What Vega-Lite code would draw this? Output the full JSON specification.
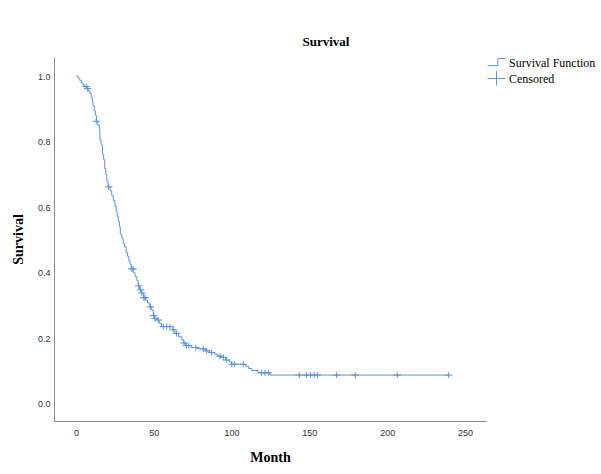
{
  "$schema": "https://vega.github.io/schema/vega-lite/v6.json",
  "width": 432,
  "height": 364,
  "autosize": {"type": "none"},
  "padding": {"left": 54, "top": 57, "right": 115, "bottom": 53},
  "background": "white",
  "config": {"view": {"stroke": null}},
  "title": {"text": "Survival", "font": "Liberation Serif", "fontSize": 13, "fontWeight": "bold", "color": "#000", "anchor": "middle", "dx": 56, "offset": 4},
  "datasets": {
    "km": [
      {"month": 0, "survival": 1.0},
      {"month": 1.5, "survival": 0.993},
      {"month": 2.5, "survival": 0.986},
      {"month": 3.5, "survival": 0.979},
      {"month": 4.5, "survival": 0.972},
      {"month": 5.5, "survival": 0.968},
      {"month": 7, "survival": 0.962},
      {"month": 8, "survival": 0.955},
      {"month": 9, "survival": 0.948},
      {"month": 9.8, "survival": 0.935},
      {"month": 10.5, "survival": 0.922},
      {"month": 11, "survival": 0.908},
      {"month": 11.8, "survival": 0.894},
      {"month": 12.5, "survival": 0.88},
      {"month": 13.2, "survival": 0.862},
      {"month": 14, "survival": 0.85},
      {"month": 15, "survival": 0.838},
      {"month": 15.4, "survival": 0.805},
      {"month": 16.2, "survival": 0.79},
      {"month": 17, "survival": 0.762},
      {"month": 17.8, "survival": 0.745},
      {"month": 18.5, "survival": 0.718},
      {"month": 19.2, "survival": 0.7},
      {"month": 19.8, "survival": 0.68},
      {"month": 20.6, "survival": 0.662},
      {"month": 22, "survival": 0.65},
      {"month": 23, "survival": 0.636},
      {"month": 24, "survival": 0.62},
      {"month": 25, "survival": 0.604},
      {"month": 25.8, "survival": 0.588},
      {"month": 26.5, "survival": 0.572},
      {"month": 27.2, "survival": 0.556},
      {"month": 28, "survival": 0.54},
      {"month": 28.5, "survival": 0.518},
      {"month": 29.5, "survival": 0.505},
      {"month": 30.4, "survival": 0.49},
      {"month": 31.3, "survival": 0.478},
      {"month": 32.3, "survival": 0.462},
      {"month": 33.2, "survival": 0.45},
      {"month": 34, "survival": 0.436},
      {"month": 34.8, "survival": 0.426},
      {"month": 35.5, "survival": 0.412},
      {"month": 37, "survival": 0.4},
      {"month": 38, "survival": 0.388},
      {"month": 39.2, "survival": 0.376},
      {"month": 40, "survival": 0.36},
      {"month": 40.8, "survival": 0.348},
      {"month": 42, "survival": 0.338},
      {"month": 43.3, "survival": 0.324},
      {"month": 44.5, "survival": 0.317},
      {"month": 46, "survival": 0.308},
      {"month": 47.5, "survival": 0.296},
      {"month": 48.7, "survival": 0.286},
      {"month": 49.7, "survival": 0.27},
      {"month": 50.5, "survival": 0.261},
      {"month": 52, "survival": 0.256},
      {"month": 53.5, "survival": 0.246},
      {"month": 55, "survival": 0.236},
      {"month": 62.3, "survival": 0.226},
      {"month": 63.6, "survival": 0.215},
      {"month": 66, "survival": 0.205},
      {"month": 68, "survival": 0.196},
      {"month": 69, "survival": 0.186},
      {"month": 70.5, "survival": 0.178},
      {"month": 74, "survival": 0.172},
      {"month": 78, "survival": 0.168},
      {"month": 83, "survival": 0.162},
      {"month": 86, "survival": 0.157},
      {"month": 89, "survival": 0.152},
      {"month": 91, "survival": 0.146},
      {"month": 93.5, "survival": 0.142},
      {"month": 96, "survival": 0.134},
      {"month": 98.5, "survival": 0.128},
      {"month": 100, "survival": 0.121},
      {"month": 109, "survival": 0.115},
      {"month": 111, "survival": 0.108},
      {"month": 113, "survival": 0.102},
      {"month": 117, "survival": 0.095},
      {"month": 124.7, "survival": 0.088},
      {"month": 240, "survival": 0.088}
    ],
    "censored": [
      {"month": 6.5, "survival": 0.968, "type": "Censored"},
      {"month": 7.5, "survival": 0.962, "type": "Censored"},
      {"month": 13, "survival": 0.862, "type": "Censored"},
      {"month": 21, "survival": 0.662, "type": "Censored"},
      {"month": 35.8, "survival": 0.412, "type": "Censored"},
      {"month": 36.8, "survival": 0.412, "type": "Censored"},
      {"month": 40.3, "survival": 0.36, "type": "Censored"},
      {"month": 41.5, "survival": 0.348, "type": "Censored"},
      {"month": 42.4, "survival": 0.338, "type": "Censored"},
      {"month": 43.6, "survival": 0.324, "type": "Censored"},
      {"month": 44.4, "survival": 0.324, "type": "Censored"},
      {"month": 47.8, "survival": 0.296, "type": "Censored"},
      {"month": 50, "survival": 0.27, "type": "Censored"},
      {"month": 50.8, "survival": 0.261, "type": "Censored"},
      {"month": 52.9, "survival": 0.256, "type": "Censored"},
      {"month": 56.1, "survival": 0.236, "type": "Censored"},
      {"month": 58.3, "survival": 0.236, "type": "Censored"},
      {"month": 60.4, "survival": 0.236, "type": "Censored"},
      {"month": 62.5, "survival": 0.226, "type": "Censored"},
      {"month": 64.7, "survival": 0.215, "type": "Censored"},
      {"month": 69.5, "survival": 0.186, "type": "Censored"},
      {"month": 71, "survival": 0.178, "type": "Censored"},
      {"month": 72.5, "survival": 0.178, "type": "Censored"},
      {"month": 77, "survival": 0.172, "type": "Censored"},
      {"month": 81.8, "survival": 0.168, "type": "Censored"},
      {"month": 84, "survival": 0.162, "type": "Censored"},
      {"month": 87.2, "survival": 0.157, "type": "Censored"},
      {"month": 92.5, "survival": 0.146, "type": "Censored"},
      {"month": 94.7, "survival": 0.142, "type": "Censored"},
      {"month": 96.8, "survival": 0.134, "type": "Censored"},
      {"month": 100.2, "survival": 0.121, "type": "Censored"},
      {"month": 102, "survival": 0.121, "type": "Censored"},
      {"month": 107.5, "survival": 0.121, "type": "Censored"},
      {"month": 119.3, "survival": 0.095, "type": "Censored"},
      {"month": 121.5, "survival": 0.095, "type": "Censored"},
      {"month": 123.6, "survival": 0.095, "type": "Censored"},
      {"month": 143.5, "survival": 0.088, "type": "Censored"},
      {"month": 148, "survival": 0.088, "type": "Censored"},
      {"month": 150.8, "survival": 0.088, "type": "Censored"},
      {"month": 153, "survival": 0.088, "type": "Censored"},
      {"month": 155.3, "survival": 0.088, "type": "Censored"},
      {"month": 167.5, "survival": 0.088, "type": "Censored"},
      {"month": 179.5, "survival": 0.088, "type": "Censored"},
      {"month": 206.5, "survival": 0.088, "type": "Censored"},
      {"month": 239.5, "survival": 0.088, "type": "Censored"}
    ]
  },
  "encoding": {
    "x": {
      "field": "month", "type": "quantitative",
      "scale": {"domain": [-14.1, 263.5], "nice": false, "zero": false},
      "axis": {"title": "Month", "values": [0, 50, 100, 150, 200, 250], "grid": false, "ticks": false, "domainColor": "#8c8c8c", "labelFont": "Liberation Sans", "labelFontSize": 9, "labelColor": "#333", "labelPadding": 7, "titleFont": "Liberation Serif", "titleFontSize": 14, "titleFontWeight": "bold", "titleColor": "#000", "titlePadding": 13}
    },
    "y": {
      "field": "survival", "type": "quantitative",
      "scale": {"domain": [-0.052, 1.058], "nice": false, "zero": false},
      "axis": {"title": "Survival", "values": [0, 0.2, 0.4, 0.6, 0.8, 1.0], "format": ".1f", "grid": false, "ticks": false, "domainColor": "#8c8c8c", "labelFont": "Liberation Sans", "labelFontSize": 9, "labelColor": "#333", "labelPadding": 4, "titleFont": "Liberation Serif", "titleFontSize": 14, "titleFontWeight": "bold", "titleColor": "#000", "titlePadding": 12}
    }
  },
  "layer": [
    {
      "data": {"name": "km"},
      "mark": {"type": "line", "interpolate": "step-after", "color": "#5b93e0", "strokeWidth": 1}
    },
    {
      "data": {"name": "censored"},
      "mark": {"type": "point", "filled": false, "strokeWidth": 1, "size": 56, "opacity": 1, "color": "#5b93e0"},
      "encoding": {
        "shape": {
          "field": "type", "type": "nominal",
          "scale": {"domain": ["Survival Function", "Censored"], "range": ["M-1,0.35H0.15V-0.45H1", "M-1,0H1M0,-0.8V0.8"]},
          "legend": {
            "title": null, "orient": "none", "legendX": 433, "legendY": -4,
            "labelFont": "Liberation Serif", "labelFontSize": 12, "labelColor": "#000",
            "symbolSize": 324, "symbolStrokeWidth": 1, "symbolStrokeColor": "#5b93e0", "symbolFillColor": "transparent",
            "rowPadding": 0, "labelOffset": 3
          }
        }
      }
    }
  ]
}
